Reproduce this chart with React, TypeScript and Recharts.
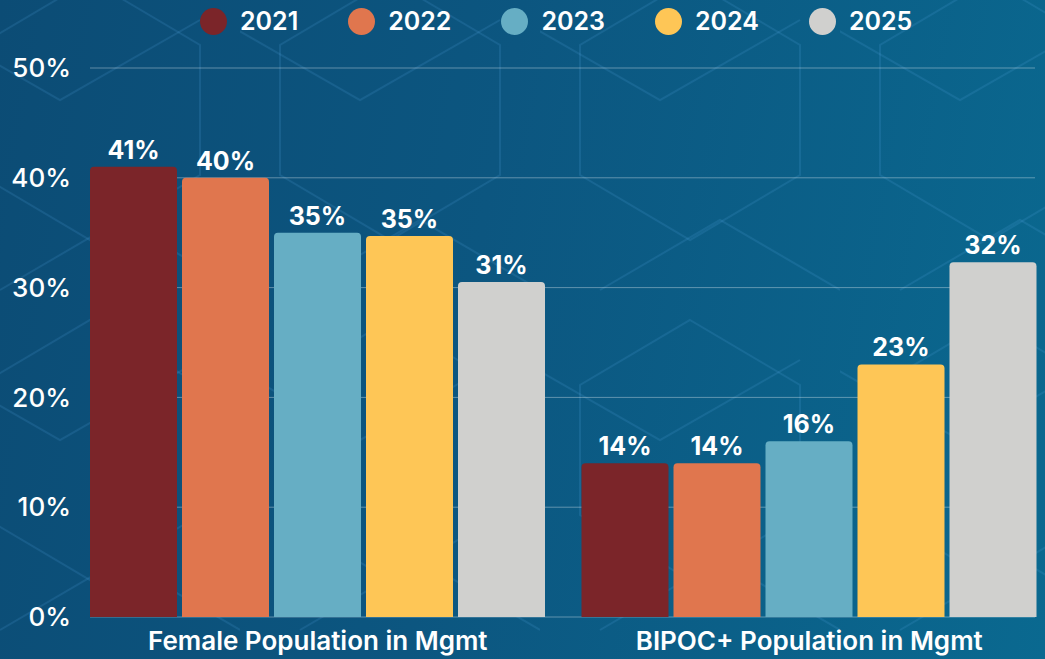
import React from 'react';
import { Bar, BarChart, CartesianGrid, LabelList, Legend, XAxis, YAxis } from 'recharts';

// ============ Data ============

const CATEGORIES = ['Female Population in Mgmt', 'BIPOC+ Population in Mgmt'];
const YEARS = ['2021', '2022', '2023', '2024', '2025'];

const V2021 = [41, 14];
const V2022 = [40, 14];
const V2023 = [35, 16];
const V2024 = [34.7, 23];
const V2025 = [30.5, 32.3];

const Y_TICKS = [0, 10, 20, 30, 40, 50];

const SERIES = [V2021, V2022, V2023, V2024, V2025];
const COLORS = ['#7b2529', '#e0764e', '#66aec4', '#fec656', '#d0d0ce'];

const data = CATEGORIES.map((name, i) => {
  const row: Record<string, string | number> = { name };
  YEARS.forEach((y, s) => {
    row[y] = SERIES[s][i];
  });
  return row;
});

const FONT = 'Inter, "Noto Sans", sans-serif';

// faint geometric texture behind the chart
const PATTERN_SVG =
  "<svg xmlns='http://www.w3.org/2000/svg' width='300' height='340'>" +
  "<g fill='none' stroke='rgba(90,170,230,0.16)' stroke-width='2'>" +
  "<polygon points='150,20 260,85 260,215 150,280 40,215 40,85'/>" +
  "<polyline points='-20,60 120,140 260,60'/>" +
  "<polyline points='60,330 180,260 300,330'/>" +
  '</g></svg>';
const PATTERN_URL = `url("data:image/svg+xml;utf8,${encodeURIComponent(PATTERN_SVG)}")`;

// ============ Pieces ============

const LegendRow = () => (
  <div style={{ display: 'flex', alignItems: 'center', fontFamily: FONT }}>
    {YEARS.map((y, i) => (
      <div key={y} style={{ display: 'flex', alignItems: 'center', marginRight: i < YEARS.length - 1 ? 50 : 0 }}>
        <span
          style={{ width: 27, height: 27, borderRadius: '50%', background: COLORS[i], display: 'inline-block', marginRight: 13 }}
        />
        <span style={{ color: '#fff', fontSize: 25, fontWeight: 600 }}>{y}</span>
      </div>
    ))}
  </div>
);

// grid lines stop where the outer bars do, not at the band edges
const gridLine = (props: any) => (
  <line
    key={props.key ?? `${props.y1}`}
    x1={props.x1 + 18}
    x2={props.x2 - 20}
    y1={props.y1}
    y2={props.y2}
    stroke="rgba(255,255,255,0.35)"
    strokeWidth={1}
  />
);

// ============ Main ============

export default function App() {
  return (
    <div
      style={{
        position: 'absolute',
        left: 0,
        top: 0,
        width: 1045,
        height: 659,
        overflow: 'hidden',
        backgroundColor: '#0c5680',
        backgroundImage: `${PATTERN_URL}, linear-gradient(100deg, #0c4c75 0%, #0c5680 45%, #0a6990 100%)`,
        backgroundPosition: '-60px -40px, 0 0',
      }}
    >
      <BarChart
        width={1045}
        height={659}
        data={data}
        margin={{ top: 38, right: -10, bottom: 0, left: 0 }}
        barGap={5}
        barCategoryGap={18}
      >
        <CartesianGrid vertical={false} horizontal={gridLine} />
        <XAxis
          dataKey="name"
          axisLine={false}
          tickLine={false}
          tickSize={0}
          tickMargin={15}
          height={42}
          interval={0}
          tick={{ fill: '#fff', fontSize: 26, fontWeight: 600, fontFamily: FONT }}
        />
        <YAxis
          domain={[0, 50]}
          ticks={Y_TICKS}
          width={72}
          axisLine={false}
          tickLine={false}
          tickSize={0}
          tickMargin={1}
          tickFormatter={(v: number) => `${v}%`}
          tick={{ fill: '#fff', fontSize: 26, fontWeight: 500, fontFamily: FONT }}
        />
        <Legend
          verticalAlign="top"
          content={() => <LegendRow />}
          wrapperStyle={{ top: 6, left: 200, width: 'auto' }}
        />
        {YEARS.map((y, i) => (
          <Bar key={y} dataKey={y} fill={COLORS[i]} radius={[4, 4, 0, 0]} isAnimationActive={false}>
            <LabelList
              dataKey={y}
              position="top"
              offset={8}
              formatter={(v: number) => `${Math.round(v)}%`}
              style={{ fill: '#fff', fontSize: 25, fontWeight: 700, fontFamily: FONT }}
            />
          </Bar>
        ))}
      </BarChart>
    </div>
  );
}
